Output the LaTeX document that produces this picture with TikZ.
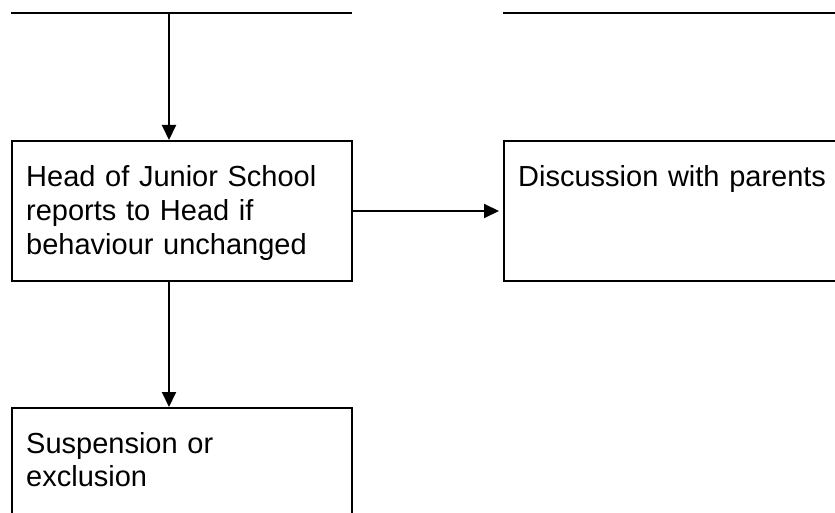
\documentclass[tikz,border=0pt]{standalone}
\usepackage{fontspec}
\setmainfont{Liberation Sans}
\usetikzlibrary{arrows.meta}
\begin{document}
\begin{tikzpicture}[x=1pt,y=-1pt,
  box/.style={draw=black,line width=2pt,rectangle,inner sep=0pt,anchor=north west},
  lbl/.style={anchor=base west,inner sep=0pt,align=left,text width=330pt,font=\fontsize{29}{33.7}\selectfont},
  conn/.style={line width=2pt,-{Triangle[length=15pt,width=14pt]}},
  rule/.style={line width=2pt}]
\useasboundingbox (0,0) rectangle (835,513);
\clip (0,0) rectangle (835,513);
% top lines
\coordinate (l1a) at (11,13);
\coordinate (l1b) at (352,13);
\coordinate (l2a) at (503,13);
\coordinate (l2b) at (850,13);
\coordinate (c1) at (169,13);
\draw[rule] (l1a) -- (l1b);
\draw[rule] (l2a) -- (l2b);
% boxes
\node[box,minimum width=340pt,minimum height=140pt] (b1) at (11,140) {};
\node[box,minimum width=360pt,minimum height=140pt] (b2) at (503,140) {};
\node[box,minimum width=340pt,minimum height=140pt] (b3) at (11,407) {};
% texts
\node[lbl] (t1) at (26,186.7) {Head of Junior School\\reports to Head if\\behaviour unchanged};
\node[lbl] (t2) at (518,187) {Discussion with parents};
\node[lbl] (t3) at (26,453) {Suspension or\\exclusion};
% connectors
\draw[conn] (c1) -- (b1.north -| c1);
\draw[conn,shorten >=4pt] (b1.east) -- (b2.west |- b1.east);
\draw[conn] (b1.south -| c1) -- (b3.north -| c1);
\end{tikzpicture}
\end{document}
